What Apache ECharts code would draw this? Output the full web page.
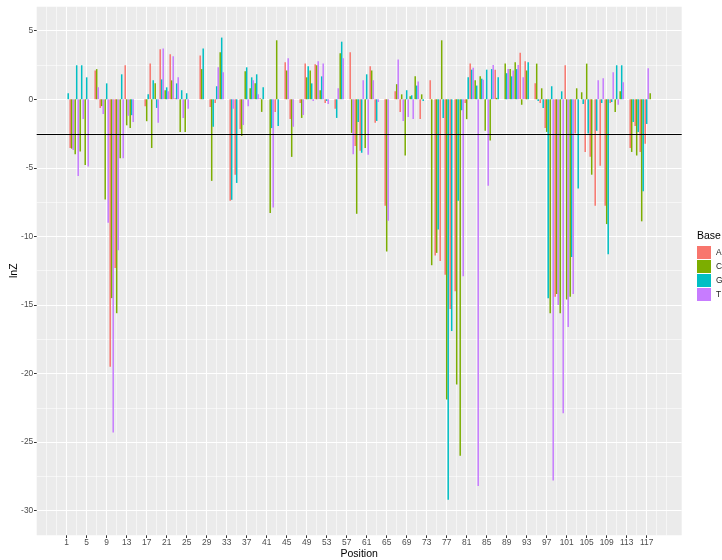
<!DOCTYPE html>
<html>
<head>
<meta charset="utf-8">
<script src="https://cdn.jsdelivr.net/npm/echarts@6/dist/echarts.min.js"></script>
<style>
    html, body {margin: 0; padding: 0; background: #fff;}
    #chart {width: 722px; height: 560px;}
</style>
</head>
<body>
<div id="chart"></div>
<script>
// lnZ per position (1..118) and base, null = base not measured at that position
var baseA = [
    0, -3.55, null, null, null, null, 2.1, -0.63, null, -19.5,
    -12.3, null, 2.48, null, null, null, -0.5, 2.6, null, 3.64,
    null, 3.28, 0.07, null, null, null, null, 3.2, null, -0.56,
    -0.27, null, null, -7.4, -5.5, -2.16, null, null, null, 0.07,
    null, null, -0.92, null, 2.7, -1.43, null, -0.27, 2.6, null,
    2.55, null, -0.27, null, -0.7, null, null, 3.42, -3.4, -3.76,
    null, 2.4, -1.72, null, -7.77, null, 0.58, -0.92, null, null,
    null, -1.43, null, 1.38, -11.4, -11.8, -12.8, -15.3, -14.0, null,
    -0.27, 2.6, null, null, null, null, 2.16, null, null, null,
    null, 3.4, 2.77, null, 1.16, -0.27, -2.1, null, -14.4, null,
    2.48, null, -2.5, 0, -3.84, -4.2, -7.77, -4.85, -7.77, -0.27,
    null, null, null, -3.55, -1.94, -3.84, -3.25, null
];
var baseC = [
    0, -3.6, -4.0, -3.8, -4.8, null, 2.2, -0.5, -7.3, -14.5,
    -15.6, -4.3, -1.9, -2.1, null, null, -1.6, -3.55, 1.16, null,
    0.66, 1.38, null, -2.38, -2.38, null, null, 2.2, null, -5.95,
    null, 3.42, null, null, null, -2.67, 2.04, 0.8, 1.16, -0.92,
    null, -8.3, 4.3, null, 2.1, -4.2, null, -1.36, 1.6, 2.1,
    2.48, 0.66, null, null, null, 3.35, null, -2.45, -8.35, null,
    -3.55, 2.1, null, null, -11.1, null, 1.1, 0.36, -4.1, 0.22,
    1.67, 0.36, null, -12.1, -11.2, 4.3, -21.9, null, -20.8, -26.0,
    -1.45, null, 1.38, 1.67, -2.3, -3.0, 0.1, null, 2.6, 2.2,
    2.7, -0.4, 2.1, null, 2.6, 0.8, -2.38, -15.6, -14.2, -15.6,
    -14.6, -14.4, 0.8, 0.51, 2.6, -5.5, null, null, -9.1, null,
    -0.92, 0.58, null, -3.84, -4.1, -8.9, null, 0.44
];
var baseG = [
    0.44, null, 2.48, 2.48, 1.6, null, null, null, 1.16, null,
    null, 1.82, null, -1.16, null, null, 0.36, 1.38, -0.63, 1.45,
    0.87, null, 1.16, 0.66, 0.44, null, null, 3.7, null, -2.0,
    0.95, 4.5, null, -7.33, -6.1, null, 2.33, 1.6, 1.82, 0.87,
    null, -2.1, -1.94, null, null, null, null, null, 2.4, 1.16,
    null, 1.67, -0.12, null, -1.36, 4.2, null, null, -1.65, -3.9,
    1.82, null, -1.58, null, null, null, null, null, 0.66, 0.29,
    1.0, -0.12, null, 0, -9.5, -1.36, -29.2, -16.9, -7.4, -0.8,
    1.6, 2.16, 1.0, 1.5, 2.16, 2.2, 1.6, null, 1.9, 1.67,
    2.2, null, 2.7, null, -0.12, -0.63, -14.5, 0.95, null, 0.58,
    null, -11.5, -6.5, -0.34, -2.5, 0, -2.3, -0.27, -11.3, -0.2,
    2.48, 2.48, null, -1.65, -2.38, -6.7, -1.8, 0
];
var baseT = [
    null, -3.7, -5.6, -1.43, -4.9, null, 0.87, -1.07, -9.0, -24.3,
    -11.0, -4.3, -1.2, -1.65, null, null, null, null, -1.72, 3.7,
    0.58, 3.13, 1.6, -1.36, -0.7, null, null, null, null, null,
    2.33, 1.97, null, -0.7, 0, -1.87, -0.5, 1.38, 0.36, null,
    null, -7.9, null, null, 3.0, -2.0, null, -1.14, null, -0.12,
    2.77, 2.6, -0.34, null, 0.8, 3.0, null, -4.0, null, 1.38,
    -4.05, 1.38, -0.2, null, -8.86, null, 2.9, -1.58, -1.29, -1.43,
    1.3, null, null, null, null, null, null, 0, null, -12.9,
    null, 2.3, -28.2, 1.43, -6.3, 2.5, null, null, 2.2, 2.1,
    2.5, 1.6, null, null, null, null, null, -27.8, -15.0, -22.9,
    -16.6, -14.2, null, null, null, null, 1.38, 1.53, null, 1.97,
    -0.4, 1.24, null, null, null, null, 2.26, 0
];
var bases = ['A', 'C', 'G', 'T'];
var xBreaks = [1, 5, 9, 13, 17, 21, 25, 29, 33, 37, 41, 45, 49, 53, 57, 61, 65, 69, 73, 77,
    81, 85, 89, 93, 97, 101, 105, 109, 113, 117];
var threshold = -2.576;

var colors = ['#F8766D', '#7CAE00', '#00BFC4', '#C77CFF'];
var values = [baseA, baseC, baseG, baseT];
var fontFamily = '"Liberation Sans", Arial, sans-serif';

// panel x scale runs from -5 to 124, one category per position
var xMin = -5, xMax = 124;
var panelCats = [];
for (var p = xMin; p <= xMax; p++) {
    panelCats.push(String(p));
}
function isMajor(index) {
    return xBreaks.indexOf(index + xMin) >= 0;
}
function isMinor(index) {
    var q = index + xMin;
    return Math.abs(q % 2) === 1 && q >= -3 && q <= 121 && !isMajor(index);
}

// dodged bars: the bases present at a position share 90% of the slot
function renderBar(b) {
    return function (params, api) {
        var pos = api.value(0);
        var v = api.value(1);
        var present = [];
        for (var k = 0; k < 4; k++) {
            if (values[k][pos - 1] != null) present.push(k);
        }
        var band = api.size([1, 0])[0] * 0.9;
        var w = band / present.length;
        var zero = api.coord([pos, 0]);
        var end = api.coord([pos, v]);
        var x0 = zero[0] - band / 2 + present.indexOf(b) * w;
        return {
            type: 'rect',
            shape: {x: x0, y: Math.min(zero[1], end[1]), width: w, height: Math.abs(end[1] - zero[1])},
            style: {fill: api.visual('color')}
        };
    };
}

var series = [];
bases.forEach(function (name, b) {
    var data = [];
    values[b].forEach(function (v, i) {
        if (v != null) data.push([i + 1, v]);
    });
    series.push({
        name: name,
        type: 'custom',
        xAxisIndex: 2,
        yAxisIndex: 1,
        itemStyle: {color: colors[b]},
        encode: {x: 0, y: 1},
        renderItem: renderBar(b),
        data: data
    });
});
series.push({
    type: 'line',
    xAxisIndex: 2,
    yAxisIndex: 1,
    data: [],
    markLine: {
        silent: true,
        symbol: ['none', 'none'],
        label: {show: false},
        lineStyle: {color: '#000', width: 1.1, type: 'solid'},
        data: [{yAxis: threshold}]
    }
});

var option = {
    animation: false,
    textStyle: {fontFamily: fontFamily},
    title: [{
        text: 'Base', left: 697, top: 231, padding: 0,
        textStyle: {fontSize: 10.5, fontWeight: 'normal', color: '#000', fontFamily: fontFamily}
    }],
    legend: {
        orient: 'vertical', left: 697, top: 246, padding: 0,
        itemWidth: 14, itemHeight: 13, itemGap: 1, icon: 'rect',
        selectedMode: false,
        textStyle: {fontSize: 8.4, color: '#1A1A1A'},
        data: bases
    },
    grid: [
        {left: 36.7, right: 40.3, top: 6.7, bottom: 24.7, show: true, backgroundColor: '#EBEBEB', borderWidth: 0,
            containLabel: false, outerBoundsMode: 'none'},
        {left: 36.7, right: 40.3, top: 30.7, bottom: 49.3, show: false,
            containLabel: false, outerBoundsMode: 'none'}
    ],
    xAxis: [
        {
            gridIndex: 0, type: 'category', data: panelCats, boundaryGap: false, position: 'bottom',
            axisLine: {show: false, onZero: false},
            axisTick: {show: true, interval: isMajor, length: 2.7, lineStyle: {color: '#333', width: 1}},
            axisLabel: {interval: isMajor, margin: 3, fontSize: 8.4, color: '#4D4D4D'},
            splitLine: {show: true, interval: isMajor, lineStyle: {color: '#fff', width: 1.1}},
            name: 'Position', nameLocation: 'middle', nameGap: 13, nameMoveOverlap: false,
            nameTextStyle: {fontSize: 10.5, color: '#000'}
        },
        {
            gridIndex: 0, type: 'category', data: panelCats, boundaryGap: false, position: 'bottom',
            axisLine: {show: false, onZero: false}, axisTick: {show: false}, axisLabel: {show: false},
            splitLine: {show: true, interval: isMinor, lineStyle: {color: '#fff', width: 0.55}}
        },
        {gridIndex: 1, type: 'value', min: xMin, max: xMax, show: false, axisLine: {onZero: false}}
    ],
    yAxis: [
        {gridIndex: 0, type: 'value', show: false, axisLine: {onZero: false}},
        {
            gridIndex: 1, type: 'value', min: -30, max: 5, interval: 5, position: 'left',
            axisLine: {show: false, onZero: false},
            axisTick: {show: true, length: 2.7, lineStyle: {color: '#333', width: 1}},
            axisLabel: {margin: 3.5, fontSize: 8.4, color: '#4D4D4D'},
            splitLine: {show: true, lineStyle: {color: '#fff', width: 1.1}},
            minorTick: {show: false, splitNumber: 2},
            minorSplitLine: {show: true, lineStyle: {color: '#fff', width: 0.55}},
            name: 'lnZ', nameLocation: 'middle', nameGap: 17, nameMoveOverlap: false,
            nameTextStyle: {fontSize: 10.5, color: '#000'}
        }
    ],
    series: series
};

var myChart = echarts.init(document.getElementById('chart'));
myChart.setOption(option);
</script>
</body>
</html>
